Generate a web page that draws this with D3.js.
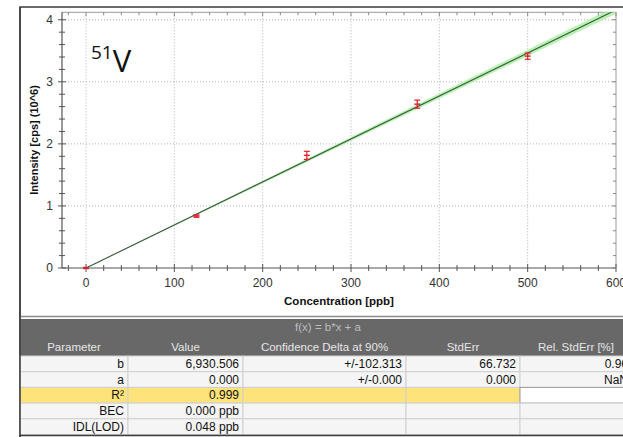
<!DOCTYPE html>
<html>
<head>
<meta charset="utf-8">
<script src="https://cdn.jsdelivr.net/npm/d3@7"></script>
<style>
  html, body { margin: 0; padding: 0; background: #fff; }
  svg { display: block; }
  text { font-family: "Liberation Sans", Arial, sans-serif; }
</style>
</head>
<body>
<svg id="chart" width="623" height="437"></svg>
<script>
// Calibration standards: concentration (ppb) and mean intensity (cps x 10^6)
const concentrations = [0, 125, 250, 375, 500];
const intensities = [0.0, 0.837, 1.815, 2.64, 3.414];
const intensityErrors = [0.01, 0.02, 0.065, 0.065, 0.05];

// Fit parameters f(x) = b*x + a  (b in cps/ppb)
const slopeB = 6930.506;
const slopeDelta = 102.313;
const interceptA = 0.0;

const xTicks = [0, 100, 200, 300, 400, 500, 600];
const yTicks = [0, 1, 2, 3, 4];

// Regression summary table
const tableHeaders = ["Parameter", "Value", "Confidence Delta at 90%", "StdErr", "Rel. StdErr [%]"];
const tableParams = ["b", "a", "R²", "BEC", "IDL(LOD)"];
const tableValues = ["6,930.506", "0.000", "0.999", "0.000 ppb", "0.048 ppb"];
const tableDeltas = ["+/-102.313", "+/-0.000", "", "", ""];
const tableStdErr = ["66.732", "0.000", "", "", ""];
const tableRelErr = ["0.96", "NaN", "", "", ""];

const svg = d3.select("#chart");

// Outer panel frame
svg.append("rect").attr("x", 20).attr("y", 7).attr("width", 640).attr("height", 440)
  .attr("fill", "#fff").attr("stroke", "#3c3c3c").attr("stroke-width", 1.5);

const plot = { left: 62, right: 616, top: 12.3, bottom: 268 };
const x = d3.scaleLinear().domain([-27.2, 600]).range([plot.left, plot.right]);
const y = d3.scaleLinear().domain([0, 4.12]).range([plot.bottom, plot.top]);

const g = svg.append("g");

// Dotted grid
g.append("g").selectAll("line").data(xTicks.filter(d => d < 600)).join("line")
  .attr("x1", d => x(d)).attr("x2", d => x(d)).attr("y1", plot.top).attr("y2", plot.bottom)
  .attr("stroke", "#b4b4b4").attr("stroke-width", 1).attr("stroke-dasharray", "1,2");
g.append("g").selectAll("line").data(yTicks.filter(d => d > 0)).join("line")
  .attr("x1", plot.left).attr("x2", plot.right).attr("y1", d => y(d)).attr("y2", d => y(d))
  .attr("stroke", "#b4b4b4").attr("stroke-width", 1).attr("stroke-dasharray", "1,2");

// Plot frame (top and right edges)
g.append("line").attr("x1", plot.left).attr("x2", plot.right).attr("y1", plot.top).attr("y2", plot.top)
  .attr("stroke", "#9a9a9a");
g.append("line").attr("x1", plot.right).attr("x2", plot.right).attr("y1", plot.top).attr("y2", plot.bottom)
  .attr("stroke", "#9a9a9a");

// Confidence band of the fitted line (cone from intercept)
const xs = [0, 600];
const band = d3.area()
  .x(d => x(d))
  .y0(d => y(((slopeB - slopeDelta) * d) / 1e6 + interceptA))
  .y1(d => y(((slopeB + slopeDelta) * d) / 1e6 + interceptA));
const clip = svg.append("clipPath").attr("id", "plotclip").append("rect")
  .attr("x", plot.left).attr("y", plot.top).attr("width", plot.right - plot.left).attr("height", plot.bottom - plot.top);
const inner = g.append("g").attr("clip-path", "url(#plotclip)");
inner.append("path").datum(xs).attr("d", band).attr("fill", "#aef0a6").attr("opacity", 0.85);
inner.append("path").datum(xs)
  .attr("d", d3.line().x(d => x(d)).y(d => y((slopeB * d) / 1e6 + interceptA)))
  .attr("stroke", "#35563a").attr("stroke-width", 1.1).attr("fill", "none");

// Minor ticks
const minorX = d3.range(-20, 601, 20);
const minorY = d3.range(0, 4.11, 0.2);
const tickColor = "#555";
// bottom axis
g.append("line").attr("x1", plot.left).attr("x2", plot.right).attr("y1", plot.bottom).attr("y2", plot.bottom)
  .attr("stroke", tickColor).attr("stroke-width", 1.2);
g.append("line").attr("x1", plot.left).attr("x2", plot.left).attr("y1", plot.top).attr("y2", plot.bottom)
  .attr("stroke", tickColor).attr("stroke-width", 1.2);
g.append("g").selectAll("line").data(minorX).join("line")
  .attr("x1", d => x(d)).attr("x2", d => x(d))
  .attr("y1", d => plot.bottom - (d % 100 === 0 ? 4 : 3)).attr("y2", d => plot.bottom + (d % 100 === 0 ? 4 : 3))
  .attr("stroke", tickColor);
// top mirror ticks
g.append("g").selectAll("line").data(minorX).join("line")
  .attr("x1", d => x(d)).attr("x2", d => x(d))
  .attr("y1", plot.top).attr("y2", d => plot.top + (d % 100 === 0 ? 4 : 3))
  .attr("stroke", "#888");
// left axis ticks
g.append("g").selectAll("line").data(minorY).join("line")
  .attr("y1", d => y(d)).attr("y2", d => y(d))
  .attr("x1", d => plot.left - (Math.abs(d - Math.round(d)) < 1e-6 ? 4 : 3))
  .attr("x2", d => plot.left + (Math.abs(d - Math.round(d)) < 1e-6 ? 4 : 3))
  .attr("stroke", tickColor);
// right mirror ticks
g.append("g").selectAll("line").data(minorY).join("line")
  .attr("y1", d => y(d)).attr("y2", d => y(d))
  .attr("x1", plot.right).attr("x2", d => plot.right - (Math.abs(d - Math.round(d)) < 1e-6 ? 4 : 3))
  .attr("stroke", "#888");

// Tick labels
g.append("g").selectAll("text").data(xTicks).join("text")
  .attr("x", d => x(d)).attr("y", 287).attr("text-anchor", "middle")
  .attr("font-size", 12).attr("fill", "#333").text(d => d);
g.append("g").selectAll("text").data(yTicks).join("text")
  .attr("x", 53).attr("y", d => y(d) + 4).attr("text-anchor", "end")
  .attr("font-size", 12).attr("fill", "#333").text(d => d);

// Axis titles
svg.append("text").attr("x", (plot.left + plot.right) / 2).attr("y", 305).attr("text-anchor", "middle")
  .attr("font-size", 11.5).attr("font-weight", "bold").attr("fill", "#111").text("Concentration [ppb]");
svg.append("text").attr("transform", "translate(38,140) rotate(-90)").attr("text-anchor", "middle")
  .attr("font-size", 11).attr("font-weight", "bold").attr("fill", "#111").text("Intensity [cps] (10^6)");

// Isotope label
const iso = svg.append("text").attr("x", 91).attr("y", 72).attr("fill", "#111")
  .style("font-family", "'Open Sans', sans-serif");
iso.append("tspan").attr("font-size", 19).attr("dy", -13).text("51");
iso.append("tspan").attr("font-size", 31).attr("dy", 13).text("V");

// Standards with error bars
const pts = concentrations.map((c, i) => ({ c, v: intensities[i], e: intensityErrors[i] }));
const red = "#e0202a";
const eb = g.append("g");
pts.forEach(p => {
  const cx = x(p.c);
  eb.append("line").attr("x1", cx).attr("x2", cx).attr("y1", y(p.v - p.e)).attr("y2", y(p.v + p.e))
    .attr("stroke", red).attr("stroke-width", 1.2);
  [p.v - p.e, p.v + p.e].forEach(v => eb.append("line")
    .attr("x1", cx - 3).attr("x2", cx + 3).attr("y1", y(v)).attr("y2", y(v))
    .attr("stroke", red).attr("stroke-width", 1.2));
  eb.append("line").attr("x1", cx - 3).attr("x2", cx + 3).attr("y1", y(p.v)).attr("y2", y(p.v))
    .attr("stroke", red).attr("stroke-width", 1.4);
});

// ---------- Regression table ----------
const colEdges = [20, 128, 243, 406, 520, 632];
const headTop = 319, headBottom = 356, rowH = 15.7;
svg.append("line").attr("x1", 20).attr("x2", 623).attr("y1", 316.5).attr("y2", 316.5)
  .attr("stroke", "#8a8a8a").attr("stroke-width", 1.5);
svg.append("rect").attr("x", 20).attr("y", headTop).attr("width", 620).attr("height", headBottom - headTop)
  .attr("fill", "#686868");
svg.append("text").attr("x", 328).attr("y", 331).attr("text-anchor", "middle")
  .attr("font-size", 11.5).attr("fill", "#bdbdbd").text("f(x) = b*x + a");
svg.append("g").selectAll("text").data(tableHeaders).join("text")
  .attr("x", (d, i) => (colEdges[i] + colEdges[i + 1]) / 2).attr("y", 351).attr("text-anchor", "middle")
  .attr("font-size", 11.5).attr("fill", "#e6e6e6").text(d => d);

const rowsG = svg.append("g");
tableParams.forEach((p, r) => {
  const top = headBottom + r * rowH;
  const cells = [p, tableValues[r], tableDeltas[r], tableStdErr[r], tableRelErr[r]];
  cells.forEach((txt, c) => {
    const highlight = p === "R²" && c < 4;
    const selected = p === "R²" && c === 4;
    rowsG.append("rect").attr("x", colEdges[c]).attr("y", top)
      .attr("width", colEdges[c + 1] - colEdges[c]).attr("height", rowH)
      .attr("fill", highlight ? "#fde37a" : (selected ? "#ffffff" : "#f5f5f5"))
      .attr("stroke", selected ? "#9a9a9a" : "#cfcfcf").attr("stroke-width", 1);
    if (txt) rowsG.append("text").attr("x", colEdges[c + 1] - 4).attr("y", top + 12)
      .attr("text-anchor", "end").attr("font-size", 12).attr("fill", "#111").text(txt);
  });
});
// left and bottom frame redrawn over the table
svg.append("line").attr("x1", 20).attr("x2", 20).attr("y1", 7).attr("y2", 437)
  .attr("stroke", "#3c3c3c").attr("stroke-width", 1.5);
svg.append("line").attr("x1", 20).attr("x2", 623).attr("y1", 435.5).attr("y2", 435.5)
  .attr("stroke", "#3c3c3c").attr("stroke-width", 1.5);
</script>
</body>
</html>
